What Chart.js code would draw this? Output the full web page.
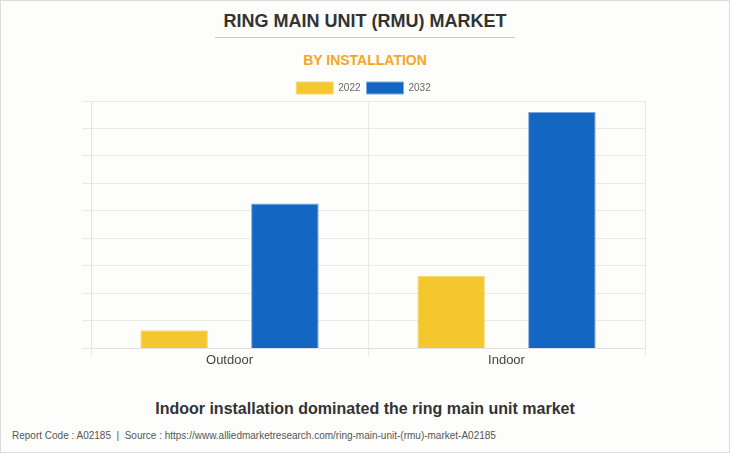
<!DOCTYPE html>
<html>
<head>
<meta charset="utf-8">
<script src="https://cdn.jsdelivr.net/npm/chart.js@4/dist/chart.umd.min.js"></script>
<style>
  body { margin: 0; background: #fff; }
  #frame {
    position: relative; width: 728px; height: 451px;
    border: 1px solid #dcdcdc; background: #fdfdfc; overflow: hidden;
    font-family: 'Liberation Sans', Arial, sans-serif;
  }
  #title {
    position: absolute; top: 10px; left: 0; width: 728px; text-align: center;
    font-size: 18px; font-weight: bold; color: #333;
  }
  #rule {
    position: absolute; top: 36px; left: 214px; width: 300px; height: 1px; background: #c8c8c8;
  }
  #subtitle {
    position: absolute; top: 51px; left: 0; width: 728px; text-align: center;
    font-size: 14px; font-weight: bold; color: #f5a623;
  }
  #box { position: absolute; left: 0; top: 75px; width: 728px; height: 294px; }
  #caption {
    position: absolute; top: 399px; left: 0; width: 728px; text-align: center;
    font-size: 16px; font-weight: bold; color: #333;
  }
  #footer {
    position: absolute; top: 429px; left: 11px;
    font-size: 10px; color: #555;
  }
</style>
</head>
<body>
<div id="frame">
  <div id="title">RING MAIN UNIT (RMU) MARKET</div>
  <div id="rule"></div>
  <div id="subtitle">BY INSTALLATION</div>
  <div id="box"><canvas id="rmuChart"></canvas></div>
  <div id="caption">Indoor installation dominated the ring main unit market</div>
  <div id="footer">Report Code : A02185&nbsp; |&nbsp; Source : https://www.alliedmarketresearch.com/ring-main-unit-(rmu)-market-A02185</div>
</div>
<script>
// Installation types and market values
const installations = ['Outdoor', 'Indoor'];
const years = ['2022', '2032'];
const values2022 = [0.66, 2.63];
const values2032 = [5.27, 8.6];
const yMax = 9;

// pull the plot a bit closer to the legend
const tightLegend = {
    id: 'tightLegend',
    afterInit(chart) {
        const fit = chart.legend.fit;
        chart.legend.fit = function () {
            fit.call(this);
            this.height -= 3;
        };
    }
};

const rmuCtx = document.getElementById('rmuChart').getContext('2d');
const rmuChart = new Chart(rmuCtx, {
    type: 'bar',
    data: {
        labels: installations,
        datasets: [{
            label: years[0],
            data: values2022,
            backgroundColor: '#f4c72f',
            borderColor: '#f7d978',
            borderWidth: 1
        }, {
            label: years[1],
            data: values2032,
            backgroundColor: '#1366c1',
            borderColor: '#7fa9dc',
            borderWidth: 1
        }]
    },
    plugins: [tightLegend],
    options: {
        responsive: true,
        maintainAspectRatio: false,
        animation: false,
        categoryPercentage: 0.8,
        barPercentage: 0.61,
        layout: { padding: { left: 81, right: 84, top: 0, bottom: 6 } },
        plugins: {
            legend: {
                labels: {
                    boxWidth: 37,
                    boxHeight: 12,
                    padding: 6,
                    color: '#666',
                    font: { family: "'Liberation Sans', Arial, sans-serif", size: 10 }
                }
            },
            tooltip: { enabled: false }
        },
        scales: {
            x: {
                grid: { color: '#e9e9e9', tickLength: 8 },
                border: { color: '#e2e2e2' },
                ticks: { color: '#444', padding: -4, font: { family: "'Liberation Sans', Arial, sans-serif", size: 13 } }
            },
            y: {
                min: 0,
                max: yMax,
                grid: { color: '#e9e9e9', tickLength: 9 },
                border: { color: '#e2e2e2' },
                ticks: { display: false, stepSize: 1 }
            }
        }
    }
});
</script>
</body>
</html>
